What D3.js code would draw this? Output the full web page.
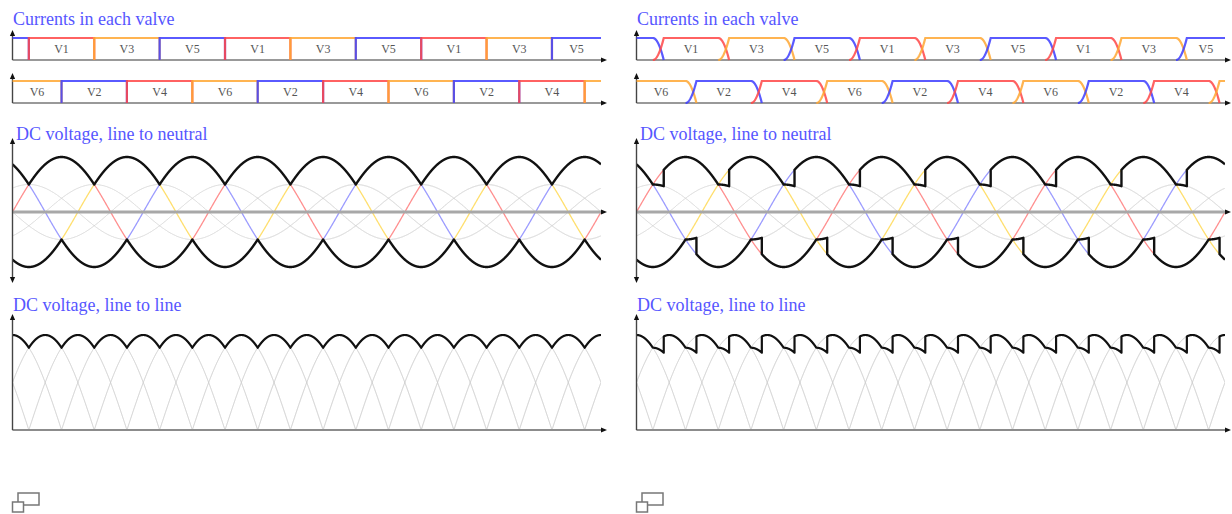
<!DOCTYPE html>
<html>
<head>
<meta charset="utf-8">
<script src="https://cdn.jsdelivr.net/npm/d3@7"></script>
<style>
  html, body { margin: 0; padding: 0; background: #fff; }
  svg { display: block; }
</style>
</head>
<body>
<svg id="chart" width="1232" height="514"></svg>
<script>
// Three-phase supply: phase a, b, c with their angle offsets (degrees)
const phaseNames = ["a", "b", "c"];
const phaseShift = [0, -120, 120];
const currentColors = ["#ff4646", "#ffa733", "#3d3dff"];
const voltageColors = ["#ff8f8f", "#ffdf6e", "#9c9cff"];

// Upper (positive rail) valves: commutation angle at which each one takes over, and its phase
const upperValves = ["V1", "V3", "V5"];
const upperPhase = [0, 1, 2];
const upperStart = [30, 150, 270];
// Lower (negative rail) valves
const lowerValves = ["V2", "V4", "V6"];
const lowerPhase = [2, 0, 1];
const lowerStart = [90, 210, 330];

// Two cases: ideal commutation, and commutation with overlap angle
const overlapDeg = [0, 20];
const panelOffset = [0, 624];
const angleDomain = [0, 1080];
const titles = ["Currents in each valve", "DC voltage, line to neutral", "DC voltage, line to line"];

const svg = d3.select("#chart");
const rad = Math.PI / 180;
const V = (p, t) => Math.sin((t + phaseShift[p]) * rad);

// Scales (shared by both panels, each panel is a translated group)
const x = d3.scaleLinear().domain(angleDomain).range([12.5, 601]);
const yI1 = d3.scaleLinear().domain([0, 1]).range([60, 38]);
const yI2 = d3.scaleLinear().domain([0, 1]).range([103, 81]);
const yLN = d3.scaleLinear().domain([-1, 1]).range([267, 157]);
const yLL = d3.scaleLinear().domain([0, Math.sqrt(3)]).range([430, 335]);

function commutations(starts, phases, labels) {
  const out = [];
  for (let k = -3; k <= 11; k++) {
    const i = ((k % 3) + 3) % 3, j = (i + 2) % 3;
    out.push({ s: starts[i] + 360 * Math.floor(k / 3), inP: phases[i], outP: phases[j], label: labels[i] });
  }
  return out;
}
const upperEv = commutations(upperStart, upperPhase, upperValves);
const lowerEv = commutations(lowerStart, lowerPhase, lowerValves);

// Rail voltage: the conducting phase, or the mean of both phases while commutating
function rail(ev, t, mu) {
  let e = ev[0];
  for (const d of ev) if (d.s <= t) e = d;
  if (t - e.s < mu) return (V(e.inP, t) + V(e.outP, t)) / 2;
  return V(e.inP, t);
}

function grid(mu) {
  const ts = d3.range(angleDomain[0], angleDomain[1] + 1e-9, 0.25);
  upperEv.concat(lowerEv).forEach(d => {
    [d.s, d.s + mu].forEach(v => {
      if (v > angleDomain[0] && v < angleDomain[1]) ts.push(v - 1e-7, v);
    });
  });
  return Array.from(new Set(ts)).sort((a, b) => a - b);
}

function valvePoints(s, mu) {
  if (mu === 0) return [[s, 0], [s, 1], [s + 120, 1], [s + 120, 0]];
  const c = 1 - Math.cos(mu * rad);
  const rise = d3.range(0, mu + 1e-9, mu / 40).map(u => [s + u, (1 - Math.cos(u * rad)) / c]);
  const fall = rise.map(([t, v]) => [t + 120, 1 - v]);
  return rise.concat(fall);
}

const defs = svg.append("defs");
defs.append("clipPath").attr("id", "plotClip")
  .append("rect")
  .attr("x", x(angleDomain[0])).attr("y", 0)
  .attr("width", x(angleDomain[1]) - x(angleDomain[0])).attr("height", 514);

function arrowHead(g, px, py, dir) {
  const L = 6, W = 2.6;
  let pts;
  if (dir === "right") pts = [[px, py], [px - L, py - W], [px - L, py + W]];
  else if (dir === "up") pts = [[px, py], [px - W, py + L], [px + W, py + L]];
  else pts = [[px, py], [px - W, py - L], [px + W, py - L]];
  g.append("path").attr("d", "M" + pts.map(p => p.join(",")).join("L") + "Z").attr("fill", "#111");
}

function hAxis(g, y0, color, width) {
  const x0 = x(angleDomain[0]), x1 = x(angleDomain[1]) + 6;
  g.append("line").attr("x1", x0).attr("x2", x1 - 4).attr("y1", y0).attr("y2", y0)
    .attr("stroke", color).attr("stroke-width", width);
  arrowHead(g, x1, y0, "right");
}
function vAxis(g, yTop, yBot, both) {
  const x0 = x(angleDomain[0]);
  g.append("line").attr("x1", x0).attr("x2", x0).attr("y1", yTop + 3).attr("y2", both ? yBot - 3 : yBot)
    .attr("stroke", "#444").attr("stroke-width", 1.4);
  arrowHead(g, x0, yTop, "up");
  if (both) arrowHead(g, x0, yBot, "down");
}

const line = d3.line().x(d => x(d[0]));
const serif = "'Liberation Serif', 'Times New Roman', serif";

overlapDeg.forEach((mu, pi) => {
  const g = svg.append("g").attr("transform", `translate(${panelOffset[pi]},0)`);
  const ts = grid(mu);

  // ---- Titles
  const titleX = [13, 16, 13];
  const titleY = [25, 140, 311];
  titles.forEach((t, i) => {
    g.append("text").text(t)
      .attr("x", titleX[i]).attr("y", titleY[i])
      .attr("font-family", serif)
      .attr("font-size", 18).attr("fill", "#5656ff");
  });

  // ---- Valve currents
  [[upperEv, yI1], [lowerEv, yI2]].forEach(([ev, yS]) => {
    hAxis(g, yS(0), "#999", 2);
    vAxis(g, yS(1) - 8, yS(0), false);
    const cg = g.append("g").attr("clip-path", "url(#plotClip)");
    ev.forEach(d => {
      if (d.s + 120 + mu < angleDomain[0] || d.s > angleDomain[1]) return;
      cg.append("path")
        .attr("d", line.y(p => yS(p[1]))(valvePoints(d.s, mu)))
        .attr("fill", "none")
        .attr("stroke", currentColors[d.inP])
        .attr("stroke-width", 2.2)
        .attr("stroke-opacity", 0.85);
      const a = Math.max(d.s + mu, angleDomain[0]), b = Math.min(d.s + 120, angleDomain[1]);
      if (b - a >= 60) {
        g.append("text").text(d.label)
          .attr("x", x((a + b) / 2)).attr("y", yS(0.5) + 4)
          .attr("text-anchor", "middle")
          .attr("font-family", serif)
          .attr("font-size", 12).attr("fill", "#555");
      }
    });
  });

  // ---- Line-to-neutral voltages
  const ln = g.append("g").attr("clip-path", "url(#plotClip)");
  // mean of two phases (negated half phase voltages) in light gray
  phaseNames.forEach((n, p) => {
    ln.append("path")
      .attr("d", line.y(q => yLN(q[1]))(ts.map(t => [t, -V(p, t) / 2])))
      .attr("fill", "none").attr("stroke", "#d4d4d4").attr("stroke-width", 1);
  });
  hAxis(g, yLN(0), "#a8a8a8", 3);
  // idle phase segments, coloured per phase
  upperEv.concat(lowerEv).forEach(d => {
    const a = Math.max(d.s, angleDomain[0]), b = Math.min(d.s + 60 + mu, angleDomain[1]);
    if (b <= a) return;
    const pts = d3.range(a, b + 1e-9, 0.25).map(t => [t, V(d.outP, t)]);
    ln.append("path")
      .attr("d", line.y(p => yLN(p[1]))(pts))
      .attr("fill", "none").attr("stroke", voltageColors[d.outP]).attr("stroke-width", 1.3);
  });
  [upperEv, lowerEv].forEach(ev => {
    ln.append("path")
      .attr("d", line.y(p => yLN(p[1]))(ts.map(t => [t, rail(ev, t, mu)])))
      .attr("fill", "none").attr("stroke", "#111").attr("stroke-width", 2.4)
      .attr("stroke-linejoin", "round");
  });
  vAxis(g, 138, 283, true);

  // ---- Line-to-line voltage
  const ll = g.append("g").attr("clip-path", "url(#plotClip)");
  const pairs = [[0, 1], [1, 2], [2, 0], [1, 0], [2, 1], [0, 2]];
  pairs.forEach(([i, j]) => {
    ll.append("path")
      .attr("d", line.y(p => yLL(p[1]))(ts.map(t => [t, Math.max(0, V(i, t) - V(j, t))])))
      .attr("fill", "none").attr("stroke", "#cacaca").attr("stroke-width", 1);
  });
  ll.append("path")
    .attr("d", line.y(p => yLL(p[1]))(ts.map(t => [t, rail(upperEv, t, mu) - rail(lowerEv, t, mu)])))
    .attr("fill", "none").attr("stroke", "#111").attr("stroke-width", 2.2)
    .attr("stroke-linejoin", "round");
  hAxis(g, yLL(0), "#8c8c8c", 2);
  vAxis(g, 314, yLL(0), false);

  // ---- Enlarge icon below each panel
  const ic = g.append("g").attr("fill", "#fff").attr("stroke", "#777").attr("stroke-width", 1.5);
  ic.append("rect").attr("x", 18).attr("y", 493).attr("width", 21).attr("height", 12);
  ic.append("rect").attr("x", 12.5).attr("y", 502).attr("width", 11).attr("height", 10);
});
</script>
</body>
</html>
